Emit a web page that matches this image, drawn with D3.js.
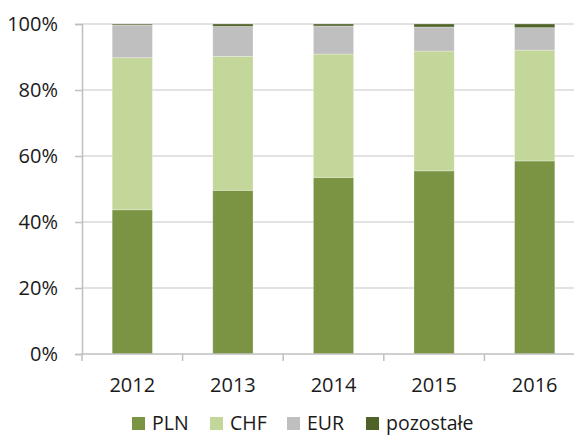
<!DOCTYPE html>
<html>
<head>
<meta charset="utf-8">
<script src="https://cdn.jsdelivr.net/npm/d3@7"></script>
<style>
  body { margin: 0; background: #fff; }
  svg { display: block; }
  text { font-family: "Open Sans", sans-serif; fill: #1a1a1a; }
</style>
</head>
<body>
<div id="chart"></div>
<script>
var years = ["2012", "2013", "2014", "2015", "2016"];
var seriesNames = ["PLN", "CHF", "EUR", "pozostałe"];
var pln = [43.7, 49.6, 53.5, 55.5, 58.5];
var chf = [46.1, 40.6, 37.4, 36.3, 33.6];
var eur = [9.9, 9.1, 8.5, 7.3, 6.8];
var pozostale = [0.3, 0.7, 0.6, 0.9, 1.1];
var yTicks = [0, 20, 40, 60, 80, 100];
var colors = ["#7a9444", "#c4d79b", "#bfbfbf", "#4f6228"];

var width = 574, height = 436;
var margin = {left: 82, top: 24, right: -11, bottom: 82};

var rows = years.map(function(y, i) {
	return {year: y, PLN: pln[i], CHF: chf[i], EUR: eur[i], "pozostałe": pozostale[i]};
});

var svg = d3.select("#chart").append("svg")
	.attr("width", width)
	.attr("height", height);

var x = d3.scaleBand()
	.domain(years)
	.range([margin.left, width - margin.right])
	.paddingInner(0.6)
	.paddingOuter(0.3);

var xb = d3.scaleBand()
	.domain(years)
	.range([margin.left, width - margin.right]);

var y = d3.scaleLinear()
	.domain([0, 100])
	.range([height - margin.bottom, margin.top]);

// gridlines
svg.append("g")
	.selectAll("line")
	.data(yTicks.slice(1))
	.enter().append("line")
	.attr("x1", margin.left)
	.attr("x2", width)
	.attr("y1", function(d) { return y(d); })
	.attr("y2", function(d) { return y(d); })
	.attr("stroke", "#d9d9d9")
	.attr("stroke-width", 1.5);

var stack = d3.stack().keys(seriesNames);
var layers = stack(rows);

svg.append("g")
	.selectAll("g")
	.data(layers)
	.enter().append("g")
	.attr("fill", function(d, i) { return colors[i]; })
	.selectAll("rect")
	.data(function(d) { return d; })
	.enter().append("rect")
	.attr("x", function(d) { return x(d.data.year); })
	.attr("width", x.bandwidth())
	.attr("y", function(d) { return y(d[1]); })
	.attr("height", function(d) { return y(d[0]) - y(d[1]); })
	.attr("stroke", "#ffffff")
	.attr("stroke-opacity", 0.35)
	.attr("stroke-width", 0.8);

// y axis
var yAxis = svg.append("g")
	.attr("transform", "translate(" + margin.left + ",0)")
	.call(d3.axisLeft(y).tickValues(yTicks).tickFormat(function(d) { return d + "%"; }).tickSize(7).tickPadding(17));
yAxis.select(".domain").attr("stroke", "#bfbfbf").attr("stroke-width", 1.5);
yAxis.selectAll(".tick line").attr("stroke", "#bfbfbf").attr("stroke-width", 1.5);
yAxis.selectAll("text").style("font-size", "20px").attr("fill", "#1a1a1a");

// x axis
var xAxis = svg.append("g")
	.attr("transform", "translate(0," + y(0) + ")");
xAxis.append("line")
	.attr("x1", margin.left)
	.attr("x2", width)
	.attr("stroke", "#bfbfbf")
	.attr("stroke-width", 1.5);
xAxis.selectAll(".xt")
	.data(years)
	.enter().append("line")
	.attr("class", "xt")
	.attr("x1", function(d) { return xb(d); })
	.attr("x2", function(d) { return xb(d); })
	.attr("y1", 0)
	.attr("y2", 7)
	.attr("stroke", "#bfbfbf")
	.attr("stroke-width", 1.5);
xAxis.selectAll("text")
	.data(years)
	.enter().append("text")
	.attr("x", function(d) { return xb(d) + xb.bandwidth() / 2; })
	.attr("y", 38)
	.attr("text-anchor", "middle")
	.style("font-size", "20px")
	.text(function(d) { return d; });

// legend
var legendX = [132, 210, 287, 366];
var legend = svg.append("g")
	.selectAll("g")
	.data(seriesNames)
	.enter().append("g")
	.attr("transform", function(d, i) { return "translate(" + legendX[i] + ",417)"; });
legend.append("rect")
	.attr("width", 13)
	.attr("height", 13)
	.attr("fill", function(d, i) { return colors[i]; });
legend.append("text")
	.attr("x", 20)
	.attr("y", 13)
	.style("font-size", "19.5px")
	.text(function(d) { return d; });
</script>
</body>
</html>
